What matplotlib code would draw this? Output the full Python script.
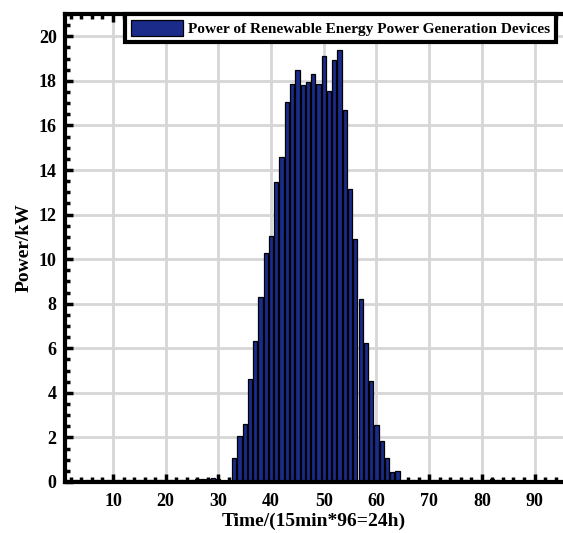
import numpy as np
import matplotlib
matplotlib.use("Agg")
import matplotlib.pyplot as plt
from matplotlib.ticker import MultipleLocator

# ── Data: 96 time slots (15 min each) ───────────────────────────────────────
slots = np.arange(1, 97)
power_night_am = [0.08, 0.09, 0.10, 0.08, 0.10, 0.09, 0.08, 0.10, 0.09, 0.08,
                  0.10, 0.09, 0.10, 0.08, 0.09, 0.10, 0.08, 0.09, 0.10, 0.08,
                  0.10, 0.09, 0.08, 0.10, 0.09, 0.12, 0.14, 0.15, 0.16, 0.15,
                  0.05, 0.06]
power_day = [1.07, 2.05, 2.60, 4.60, 6.32, 8.29, 10.28, 11.04, 13.44, 14.59,
             17.06, 17.88, 18.47, 17.81, 17.97, 18.33, 17.84, 19.12, 17.55, 18.93,
             19.37, 16.69, 13.14, 10.92, 8.23, 6.23, 4.53, 2.55, 1.85, 1.09,
             0.46, 0.49]
power_night_pm = [0.10, 0.09, 0.10, 0.11, 0.10, 0.09, 0.10, 0.08, 0.10, 0.09,
                  0.10, 0.09, 0.08, 0.10, 0.09, 0.08, 0.10, 0.12, 0.11, 0.09,
                  0.05, 0.04, 0.03, 0.03, 0.02, 0.02, 0.02, 0.02, 0.02, 0.02,
                  0.02, 0.02]
power = power_night_am + power_day + power_night_pm

legend_label = "Power of Renewable Energy Power Generation Devices"

# ── Style ────────────────────────────────────────────────────────────────────
plt.rcParams["font.family"] = ["Liberation Serif", "DejaVu Serif"]
plt.rcParams["font.weight"] = "bold"

fig = plt.figure(figsize=(5.63, 5.33), dpi=100)
ax = fig.add_axes([0.1155, 0.0957, 0.8845, 0.8780])

ax.grid(True, color="#d6d6d6", lw=2.0, ls="-", zorder=0)
ax.set_axisbelow(True)

ax.bar(slots, power, width=0.8, color="#1a2b8a", edgecolor="black", lw=0.9,
       label=legend_label, zorder=2)

ax.set_xlim(0.9, 95.4)
ax.set_ylim(0, 21)
ax.xaxis.set_major_locator(MultipleLocator(10))
ax.xaxis.set_minor_locator(MultipleLocator(2))
ax.yaxis.set_major_locator(MultipleLocator(2))
ax.yaxis.set_minor_locator(MultipleLocator(0.5))
ax.tick_params(which="both", direction="in", top=True, right=False,
               width=2.5, labelsize=13)
ax.tick_params(which="major", length=6)
ax.tick_params(which="minor", length=3.5)
ax.tick_params(axis="x", which="major", pad=8)
ax.tick_params(axis="y", which="major", pad=6)
for lab in ax.get_xticklabels() + ax.get_yticklabels():
    lab.set_fontweight("bold")

for side in ["left", "bottom", "top"]:
    ax.spines[side].set_linewidth(3)
ax.spines["right"].set_visible(False)

ax.set_xlabel("Time/(15min*96=24h)", fontsize=14, fontweight="bold", labelpad=2)
ax.set_ylabel("Power/kW", fontsize=14, fontweight="bold", labelpad=4)

leg = ax.legend(loc="upper left", bbox_to_anchor=(0.12, 1.0), fancybox=False,
                framealpha=1, borderaxespad=0, handlelength=3.4, handleheight=1.2,
                handletextpad=0.3, borderpad=0.4,
                prop={"weight": "bold", "size": 11.1})
leg.get_frame().set_edgecolor("black")
leg.get_frame().set_linewidth(3)

fig.savefig("out.png", dpi=100)
